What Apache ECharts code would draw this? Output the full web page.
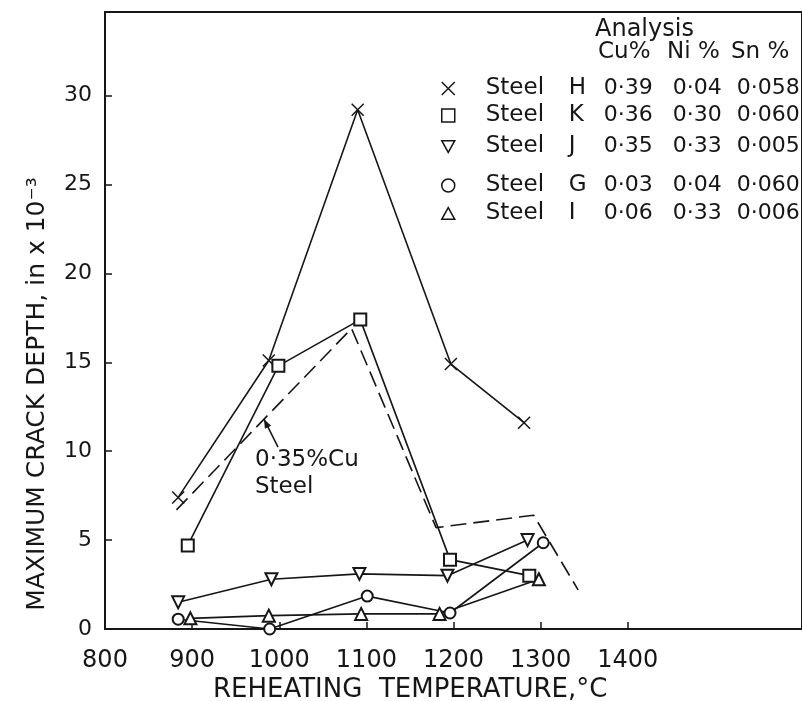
<!DOCTYPE html>
<html>
<head>
<meta charset="utf-8">
<script src="https://cdn.jsdelivr.net/npm/echarts@6/dist/echarts.min.js"></script>
<style>
html, body { margin: 0; padding: 0; background: #fff; }
#chart { width: 802px; height: 701px; }
</style>
</head>
<body>
<div id="chart"></div>
<script>
// reheating temperature (°C) vs maximum crack depth (in x 10^-3)
const tempsH = [884, 988, 1090, 1197, 1281]
const steelH = [7.4, 15.1, 29.2, 14.9, 11.6]
const tempsK = [895, 999, 1093, 1196, 1287]
const steelK = [4.7, 14.8, 17.4, 3.9, 3.0]
const tempsJ = [884, 991, 1092, 1193, 1285]
const steelJ = [1.5, 2.8, 3.1, 3.0, 5.0]
const tempsG = [884, 989, 1101, 1196, 1303]
const steelG = [0.55, 0.0, 1.85, 0.9, 4.85]
const tempsI = [898, 988, 1094, 1184, 1298]
const steelI = [0.6, 0.75, 0.85, 0.85, 2.8]
// dashed band line for 0.35 %Cu steel
const cuTemps = [882, 1083, 1180, 1292, 1343]
const cuSteel = [6.7, 16.9, 5.7, 6.4, 2.2]

// analysis table
const steelNames = ['H', 'K', 'J', 'G', 'I']
const cuPct = ['0·39', '0·36', '0·35', '0·03', '0·06']
const niPct = ['0·04', '0·30', '0·33', '0·04', '0·33']
const snPct = ['0·058', '0·060', '0·005', '0·060', '0·006']

const xTicks = [800, 900, 1000, 1100, 1200, 1300, 1400]
const yTicks = [0, 5, 10, 15, 20, 25, 30]

const ink = '#161616'
const font = 'DejaVu Sans'

const pair = (xs, ys) => xs.map((x, i) => [x, ys[i]])

const xPath = 'path://M0,0L10,10M10,0L0,10'
const downTri = 'path://M0,0L10,0L5,9Z'
const upTri = 'path://M5,0L10,9L0,9Z'
const square = 'path://M0,0L10,0L10,10L0,10Z'

const marks = {
  H: { data: pair(tempsH, steelH), symbol: xPath, size: 12, rotate: 0, icon: xPath },
  K: { data: pair(tempsK, steelK), symbol: 'emptyRect', size: 12, rotate: 0, icon: square },
  J: { data: pair(tempsJ, steelJ), symbol: 'emptyTriangle', size: 12, rotate: 180, icon: downTri },
  G: { data: pair(tempsG, steelG), symbol: 'emptyCircle', size: 11, rotate: 0, icon: 'circle' },
  I: { data: pair(tempsI, steelI), symbol: 'emptyTriangle', size: 12, rotate: 0, icon: upTri }
}

const legendRowY = [85, 112, 143, 182, 210]

const series = steelNames.map(n => ({
  name: n,
  type: 'line',
  data: marks[n].data,
  symbol: marks[n].symbol,
  symbolSize: marks[n].size,
  symbolRotate: marks[n].rotate,
  showAllSymbol: true,
  color: ink,
  lineStyle: { color: ink, width: 1.6 },
  itemStyle: { color: ink, borderColor: ink, borderWidth: 1.5 },
  z: 3,
  animation: false
}))
series.push({
  name: 'cu',
  type: 'line',
  data: pair(cuTemps, cuSteel),
  symbol: 'none',
  lineStyle: { color: ink, width: 1.6, type: [16, 7] },
  z: 2,
  animation: false
})

const legends = steelNames.map((n, i) => ({
  data: [n],
  left: 436,
  top: legendRowY[i] - 13,
  icon: marks[n].icon,
  symbolRotate: 0,
  itemWidth: 13,
  itemHeight: 13,
  itemGap: 0,
  selectedMode: false,
  itemStyle: { color: '#fff', borderColor: ink, borderWidth: 1.5 },
  formatter: () => `{g| }{s|Steel}{l|${n}}{c|${cuPct[i]}}{n|${niPct[i]}}{t|${snPct[i]}}`,
  textStyle: {
    color: ink,
    fontFamily: font,
    fontSize: 22,
    rich: {
      g: { width: 26, lineHeight: 26 },
      s: { width: 83, fontSize: 23, lineHeight: 26 },
      l: { width: 35, fontSize: 23, lineHeight: 26 },
      c: { width: 69, fontSize: 22, lineHeight: 26 },
      n: { width: 64, fontSize: 22, lineHeight: 26 },
      t: { width: 70, fontSize: 22, lineHeight: 26 }
    }
  }
}))

const chart = echarts.init(document.getElementById('chart'))
chart.setOption({
  backgroundColor: '#fff',
  animation: false,
  textStyle: { fontFamily: font, color: ink },
  grid: {
    left: 105, right: -15, top: 12, bottom: 72,
    show: true, borderColor: ink, borderWidth: 2
  },
  legend: legends,
  xAxis: {
    type: 'value',
    min: 800, max: 1600, interval: 100,
    axisLine: { lineStyle: { color: ink, width: 2 } },
    axisTick: { inside: true, length: 7, customValues: xTicks.slice(1), lineStyle: { color: ink, width: 1.5 } },
    axisLabel: {
      customValues: xTicks, margin: 20, fontSize: 24, color: ink, fontFamily: font,
      formatter: v => String(v)
    },
    splitLine: { show: false }
  },
  yAxis: {
    type: 'value',
    min: 0, max: 34.7, interval: 5,
    axisLine: { lineStyle: { color: ink, width: 2 } },
    axisTick: { inside: true, length: 7, customValues: yTicks.slice(1), lineStyle: { color: ink, width: 1.5 } },
    axisLabel: {
      customValues: yTicks, margin: 13, fontSize: 22, color: ink, fontFamily: font,
      formatter: v => String(v)
    },
    splitLine: { show: false }
  },
  series: series
})

// arrow pointing at the middle of the first dashed segment
const anchor = [(cuTemps[0] + cuTemps[1]) / 2, (cuSteel[0] + cuSteel[1]) / 2]
const tip = chart.convertToPixel({ gridIndex: 0 }, anchor)
const tail = [tip[0] + 14, tip[1] + 28]
const dx = tip[0] - tail[0], dy = tip[1] - tail[1]
const len = Math.hypot(dx, dy)
const ux = dx / len, uy = dy / len
const head = [
  [tip[0], tip[1]],
  [tip[0] - ux * 9 - uy * 3.5, tip[1] - uy * 9 + ux * 3.5],
  [tip[0] - ux * 9 + uy * 3.5, tip[1] - uy * 9 - ux * 3.5]
]

chart.setOption({
  graphic: [
    { type: 'text', left: 595, top: 18, style: { text: 'Analysis', font: `24px "${font}"`, fill: ink } },
    { type: 'text', left: 598, top: 41, style: { text: 'Cu%', font: `23px "${font}"`, fill: ink } },
    { type: 'text', left: 667, top: 41, style: { text: 'Ni %', font: `23px "${font}"`, fill: ink } },
    { type: 'text', left: 731, top: 41, style: { text: 'Sn %', font: `23px "${font}"`, fill: ink } },
    {
      type: 'text', x: 213, y: 690,
      style: { text: 'REHEATING  TEMPERATURE,°C', font: `26px "${font}"`, fill: ink, textVerticalAlign: 'middle' }
    },
    {
      type: 'text', x: 37, y: 394, rotation: Math.PI / 2,
      style: {
        text: 'MAXIMUM CRACK DEPTH, in x 10⁻³', font: `25px "${font}"`, fill: ink,
        textAlign: 'center', textVerticalAlign: 'middle'
      }
    },
    {
      type: 'text', x: tip[0] - 9, y: tip[1] + 27,
      style: { text: '0·35%Cu\nSteel', font: `23px "${font}"`, fill: ink, textVerticalAlign: 'top', lineHeight: 27 }
    },
    {
      type: 'line',
      shape: { x1: tail[0], y1: tail[1], x2: tip[0], y2: tip[1] },
      style: { stroke: ink, lineWidth: 1.5 }
    },
    { type: 'polygon', shape: { points: head }, style: { fill: ink } }
  ]
})
</script>
</body>
</html>
